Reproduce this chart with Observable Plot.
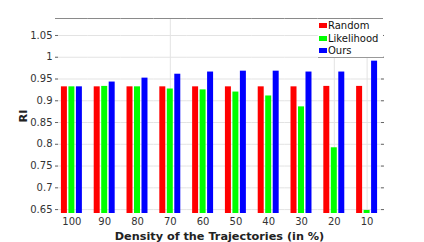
<!DOCTYPE html>
<html>
<head>
<meta charset="utf-8">
<script src="https://cdn.jsdelivr.net/npm/d3@7"></script>
<script src="https://cdn.jsdelivr.net/npm/@observablehq/plot@0.6"></script>
<style>
  html, body { margin: 0; padding: 0; background: #fff; }
  #wrap { position: relative; width: 424px; height: 242px; font-family: "DejaVu Sans", sans-serif; }
  #legend { position: absolute; left: 318px; top: 19px; width: 65px; height: 38px; background: #fff;
            border-bottom: 1px solid #999; font-size: 10px; color: #111; }
  .item { position: absolute; left: 1px; height: 12px; line-height: 12px; white-space: nowrap; }
  .sw { display: inline-block; width: 8px; height: 5px; margin-right: 1px; vertical-align: 1px; }
</style>
</head>
<body>
<div id="wrap"></div>
<script>
const densities = ["100", "90", "80", "70", "60", "50", "40", "30", "20", "10"];
const methods = ["Random", "Likelihood", "Ours"];
const colors = ["#ff0000", "#00ff00", "#0000ff"];
const randomRI     = [0.932, 0.932, 0.932, 0.932, 0.932, 0.932, 0.932, 0.932, 0.933, 0.933];
const likelihoodRI = [0.932, 0.933, 0.932, 0.927, 0.925, 0.920, 0.911, 0.886, 0.792, 0.648];
const oursRI       = [0.932, 0.943, 0.952, 0.961, 0.966, 0.968, 0.968, 0.966, 0.966, 0.991];
const yTicks = [0.65, 0.7, 0.75, 0.8, 0.85, 0.9, 0.95, 1, 1.05];
const yDomain = [0.641, 1.089];
const vGrid = ["70", "20", "10"];

const series = [randomRI, likelihoodRI, oursRI];
const rows = [];
densities.forEach((d, i) => methods.forEach((m, j) => rows.push({density: d, method: m, ri: series[j][i]})));

const fmt = v => String(+v.toFixed(2));

const chart = Plot.plot({
  width: 424,
  height: 242,
  marginLeft: 55,
  marginRight: 41,
  marginTop: 18,
  marginBottom: 29,
  style: {fontFamily: "DejaVu Sans, sans-serif", fontSize: "10px", color: "#333", background: "#fff"},
  fx: {domain: densities, paddingInner: 0, paddingOuter: 0, round: false, label: null},
  x: {domain: methods, paddingInner: 0.2, paddingOuter: 0.79, round: false, axis: null},
  y: {domain: yDomain, label: null},
  color: {domain: methods, range: colors},
  marks: [
    Plot.gridY(yTicks, {stroke: "#e3e3e3", strokeOpacity: 1}),
    Plot.ruleX(vGrid.map(d => ({density: d})), {fx: "density", x: () => "Likelihood", stroke: "#e3e3e3", strokeOpacity: 1}),
    Plot.ruleY([yDomain[1]], {stroke: "#8a8a8a"}),
    Plot.barY(rows, {fx: "density", x: "method", y1: yDomain[0], y2: "ri", fill: "method"}),
    Plot.axisY({ticks: yTicks, tickFormat: fmt, tickSize: -3, tickPadding: 6, stroke: "#666", fontSize: 10, label: "RI", labelAnchor: "center", labelArrow: "none", labelOffset: 37}),
    Plot.axisY({ticks: yTicks, anchor: "right", tickFormat: () => "", tickSize: -3, stroke: "#666", label: null}),
    Plot.axisFx({anchor: "bottom", tickSize: 0, tickPadding: 4, fontSize: 10, label: "Density of the Trajectories (in %)", labelAnchor: "center", labelArrow: "none", labelOffset: 26})
  ]
});
document.getElementById("wrap").appendChild(chart);

// bold axis titles
chart.querySelectorAll("[aria-label='y-axis label'] text, [aria-label='fx-axis label'] text").forEach(t => {
  t.style.fontWeight = "bold"; t.style.fontSize = "11.25px"; t.setAttribute("fill", "#222");
});

const legend = document.createElement("div");
legend.id = "legend";
methods.forEach((m, i) => {
  const it = document.createElement("div");
  it.className = "item";
  it.style.top = (1 + i * 12.6) + "px";
  it.innerHTML = `<span class="sw" style="background:${colors[i]}"></span>${m}`;
  legend.appendChild(it);
});
document.getElementById("wrap").appendChild(legend);
</script>
</body>
</html>
